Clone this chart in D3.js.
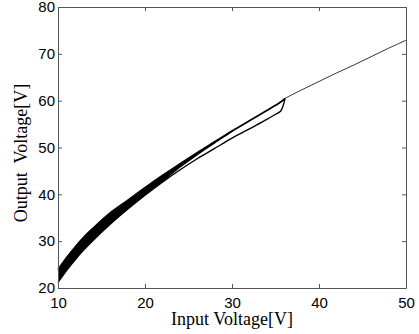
<!DOCTYPE html>
<html>
<head>
<meta charset="utf-8">
<script src="https://cdn.jsdelivr.net/npm/d3@7"></script>
<style>
  body { margin: 0; background: #fff; }
</style>
</head>
<body>
<div id="container"></div>
<script>
let w = 419;
let h = 334;
let plotLeft = 58;
let plotRight = 406;
let plotTop = 7;
let plotBottom = 288;

let xTicks = [10, 20, 30, 40, 50];
let yTicks = [20, 30, 40, 50, 60, 70, 80];

// hysteresis loop: input voltage and the two branches of output voltage
let vin   = [10, 11, 12, 13, 14, 16, 18, 20, 22, 24, 26, 28, 30, 32, 34, 35, 35.6, 36.1];
let vUp   = [23.9, 26.5, 28.8, 30.9, 32.7, 36.0, 38.7, 41.4, 44.0, 46.5, 48.9, 51.2, 53.5, 55.7, 57.9, 59.0, 59.7, 60.5];
let vDown = [21.2, 23.8, 26.1, 28.2, 30.1, 33.6, 36.8, 39.8, 42.6, 45.2, 47.6, 49.8, 52.0, 54.0, 56.0, 57.1, 57.8, 60.5];
// lower edge of the solid part (many overlapping cycles); it opens up above 24 V
let vDense = [21.2, 23.8, 26.1, 28.2, 30.1, 33.6, 36.8, 39.8, 42.6, 45.6, 48.3, 50.8, 53.3, 55.7, 57.9, 59.0, 59.7, 60.5];
let denseLimit = 30;

// single trace once the loop closes
let vinHigh  = [36.1, 38, 40, 42, 44, 46, 48, 50];
let voutHigh = [60.5, 62.3, 64.1, 65.9, 67.6, 69.4, 71.2, 72.9];

let viz = d3.select("#container")
  .append("svg")
    .attr("width", w)
    .attr("height", h)
;

let xScale = d3.scaleLinear().domain([10, 50]).range([plotLeft, plotRight]);
let yScale = d3.scaleLinear().domain([20, 80]).range([plotBottom, plotTop]);

let loopData = vin.map(function(d, i){
  return {x: d, up: vUp[i], down: vDown[i], dense: vDense[i]};
});
let highData = vinHigh.map(function(d, i){
  return {x: d, y: voutHigh[i]};
});

let plot = viz.append("g").attr("class", "plot");

// filled band where the traces overlap
let band = d3.area()
  .defined(function(d){ return d.x <= denseLimit; })
  .x(function(d){ return xScale(d.x); })
  .y0(function(d){ return yScale(d.dense); })
  .y1(function(d){ return yScale(d.up); })
  .curve(d3.curveCatmullRom)
;
plot.append("path")
  .datum(loopData)
  .attr("d", band)
  .attr("fill", "#000")
;

let upLine = d3.line()
  .x(function(d){ return xScale(d.x); })
  .y(function(d){ return yScale(d.up); })
  .curve(d3.curveCatmullRom)
;
let downLine = d3.line()
  .x(function(d){ return xScale(d.x); })
  .y(function(d){ return yScale(d.down); })
  .curve(d3.curveCatmullRom)
;
plot.append("path")
  .datum(loopData)
  .attr("d", upLine)
  .attr("fill", "none")
  .attr("stroke", "#000")
  .attr("stroke-width", 1.8)
;
plot.append("path")
  .datum(loopData)
  .attr("d", downLine)
  .attr("fill", "none")
  .attr("stroke", "#000")
  .attr("stroke-width", 1.4)
;

let highLine = d3.line()
  .x(function(d){ return xScale(d.x); })
  .y(function(d){ return yScale(d.y); })
  .curve(d3.curveCatmullRom)
;
plot.append("path")
  .datum(highData)
  .attr("d", highLine)
  .attr("fill", "none")
  .attr("stroke", "#000")
  .attr("stroke-width", 0.8)
;

// axes, ticks pointing inward like matlab
let xAxis = d3.axisBottom(xScale).tickValues(xTicks).tickSizeInner(-4).tickSizeOuter(0).tickPadding(9);
let yAxis = d3.axisLeft(yScale).tickValues(yTicks).tickSizeInner(-4).tickSizeOuter(0).tickPadding(3);
let xAxisTop = d3.axisTop(xScale).tickValues(xTicks).tickSizeInner(-4).tickSizeOuter(0).tickFormat("");
let yAxisRight = d3.axisRight(yScale).tickValues(yTicks).tickSizeInner(-4).tickSizeOuter(0).tickFormat("");

viz.append("g").attr("class", "xaxis").attr("transform", "translate(0, "+plotBottom+")").call(xAxis);
viz.append("g").attr("class", "yaxis").attr("transform", "translate("+plotLeft+", 0)").call(yAxis);
viz.append("g").attr("transform", "translate(0, "+plotTop+")").call(xAxisTop);
viz.append("g").attr("transform", "translate("+plotRight+", 0)").call(yAxisRight);

viz.selectAll(".domain, .tick line").attr("stroke", "#555");
viz.selectAll(".tick text")
  .attr("font-family", "Liberation Sans, Arial, sans-serif")
  .attr("font-size", 15)
  .attr("fill", "#000")
;

// axis labels
viz.append("text")
  .text("Input Voltage[V]")
  .attr("x", (plotLeft+plotRight)/2)
  .attr("y", 325)
  .attr("text-anchor", "middle")
  .attr("font-family", "Liberation Serif, Times New Roman, serif")
  .attr("font-size", 18)
  .attr("fill", "#000")
;
viz.append("text")
  .text("Output  Voltage[V]")
  .attr("transform", "translate(27, 153) rotate(-90)")
  .attr("text-anchor", "middle")
  .attr("font-family", "Liberation Serif, Times New Roman, serif")
  .attr("font-size", 18)
  .attr("fill", "#000")
  .style("white-space", "pre")
;
</script>
</body>
</html>
